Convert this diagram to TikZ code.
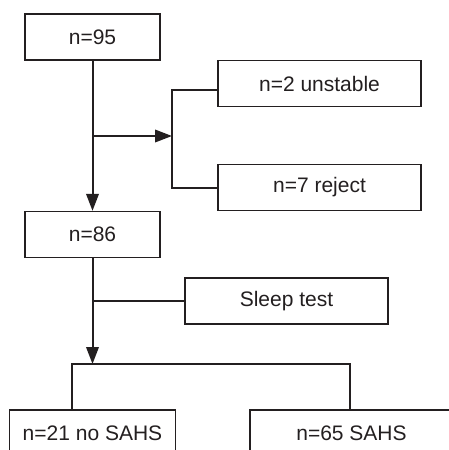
\documentclass[tikz,border=0pt]{standalone}
\usepackage{fontspec}
\setmainfont{Liberation Sans}
\usetikzlibrary{arrows.meta}
\definecolor{ink}{RGB}{35,31,32}

\begin{document}
\begin{tikzpicture}[x=1pt, y=-1pt,
    box/.style={draw=ink, line width=1.3pt, inner sep=0pt, minimum height=46pt, font=\fontsize{21}{25}\selectfont, text=ink},
    line/.style={draw=ink, line width=2pt},
    arr/.style={line, -{Triangle[length=17pt,width=12.5pt]}}]
    \useasboundingbox (0,0) rectangle (449,450);
    \clip (0,0) rectangle (449,450);

    \node[box, minimum width=135pt] (n95) at (92.5,37) {n=95};
    \node[box, minimum width=203pt] (unstable) at (319.5,83.5) {n=2 unstable};
    \node[box, minimum width=203pt] (reject) at (319.5,187.5) {n=7 reject};
    \node[box, minimum width=135pt] (n86) at (92.5,234.5) {n=86};
    \node[box, minimum width=203pt] (sleep) at (286.5,301) {Sleep test};
    \node[box, minimum width=166pt] (nosahs) at (92.5,433) {n=21 no SAHS};
    \node[box, minimum width=203pt] (sahs) at (351.5,433) {n=65 SAHS};

    \coordinate (tap1) at (92.5,136);
    \coordinate (split) at (172,136);
    \coordinate (tap2) at (92.5,301);
    \coordinate (fork) at (92.5,364);
    \coordinate (forkl) at (72,364);
    \coordinate (forkr) at (350,364);

    \draw[arr] (n95) -- (n86);
    \draw[arr] (tap1) -- (split);
    \draw[line] ([yshift=-6pt]unstable.west) -| (split) |- (reject.west);

    \draw[arr] (n86) -- (fork);
    \draw[line] (tap2) -- (sleep.west);
    \draw[line] (nosahs.north -| forkl) -- (forkl) -- (forkr) -- (forkr |- sahs.north);
\end{tikzpicture}
\end{document}
